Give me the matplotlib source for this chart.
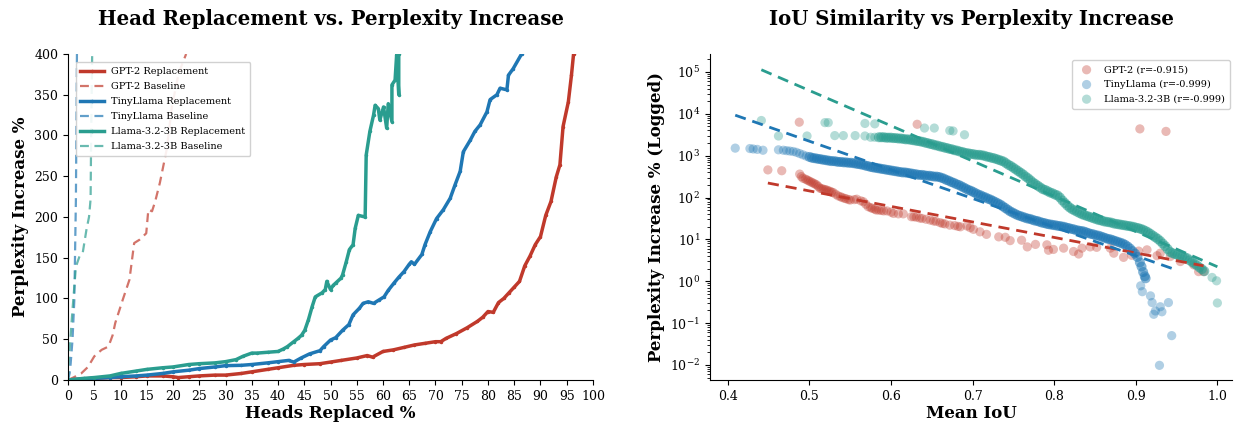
import numpy as np
import matplotlib
matplotlib.use("Agg")
import matplotlib.pyplot as plt

plt.rcParams['font.family'] = ['DejaVu Serif']
plt.rcParams['mathtext.fontset'] = 'dejavuserif'

# ---------------- data: left panel ----------------
models = ["GPT-2", "TinyLlama", "Llama-3.2-3B"]
colors = ["#c0392b", "#1f77b4", "#2a9d8f"]

gpt2_rep_x = [0, 2, 5, 8, 10, 13, 15, 18, 20, 21, 23, 25, 28, 30, 33, 35, 38, 40, 43, 45, 48, 50, 52, 55, 57, 58,
              60, 62, 64, 66, 68, 70, 71, 72, 74, 76, 78, 79, 80, 81, 82, 83, 84, 85, 86, 87, 88, 89, 90, 91, 92,
              93, 93.7, 94.3, 95.3, 95.9, 96.3]
gpt2_rep_y = [0, 1, 2, 3, 3, 4, 5, 5, 4, 3, 4, 5, 6, 6, 8, 10, 13, 15, 18, 19, 20, 22, 24, 27, 30, 28,
              35, 37, 40, 43, 45, 47, 47, 51, 57, 64, 72, 77, 84, 83, 95, 100, 107, 114, 121, 140, 152, 166, 176, 202, 219,
              249, 264, 311, 341, 374, 400]

tiny_rep_x = [0, 3, 5, 8, 10, 13, 15, 18, 20, 23, 25, 28, 30, 33, 35, 38, 40, 42, 43, 44.4, 46, 48, 48.7, 50, 51,
              52.3, 53.5, 54.3, 55.5, 56.2, 57.2, 58.2, 59.2, 60.2, 61, 62.1, 63, 64, 65, 65.4, 66, 67.4, 68, 69,
              70.2, 71.5, 72.8, 73.7, 74.7, 75.3, 76.6, 77.5, 78.5, 79.8, 80.4, 81.7, 82.3, 83.6, 83.9, 84.8, 86.4]
tiny_rep_y = [0, 1, 2, 3, 4, 5, 6, 8, 10, 12, 14, 16, 17.6, 18, 19, 21, 22.5, 24, 22, 27, 32, 36, 41, 49, 52,
              61, 68, 80, 88, 94, 96, 94, 98, 102, 110, 119, 126, 133, 142, 145, 142, 154, 166, 182,
              198, 209, 223, 239, 256, 280, 294, 305, 313, 329, 344, 350, 358, 356, 374, 382, 400]

llama_rep_x = [0, 3, 5, 8, 10, 13, 15, 18, 20, 23, 25, 28, 30, 32, 33.3, 35, 36, 38, 40, 41, 41.8, 43, 43.8, 44.5,
               45.1, 45.8, 46.5, 47.1, 48.4, 49, 49.3, 50, 50.5, 51, 52, 52.3, 53, 53.6, 54.3, 54.7, 55.3, 56.6,
               56.8, 57.5, 58.2, 58.5, 59.1, 59.4, 60.1, 60.7, 61.0, 61.7, 61.7, 62.3, 62.6, 63, 63]
llama_rep_y = [0, 2, 3, 5, 8, 11, 13, 15, 16, 19, 20, 21, 22.5, 25, 29, 33, 33, 34, 35, 38, 41, 47, 51, 55,
               61, 74, 90, 102, 107, 111, 121, 111, 116, 119, 125, 129, 145, 160, 166, 186, 202, 200,
               276, 305, 325, 337, 333, 319, 335, 309, 339, 317, 362, 368, 399, 350, 400]

gpt2_base_x = [0, 1, 2.5, 3.8, 5, 6.4, 7.7, 8.5, 9, 10.4, 11.7, 12.6, 13.6, 14.9, 15.3, 16.0, 16.6, 17.5, 18.8,
               19.8, 21.1, 22.5]
gpt2_base_y = [0, 3, 8, 16, 29, 37, 41, 55, 70, 98, 123, 168, 172, 180, 209, 207, 219, 242, 283, 336, 377, 400]

tiny_base_x = [0, 0.3, 0.5, 0.85, 1.2, 1.3, 1.5, 1.7]
tiny_base_y = [0, 8, 20, 49, 98, 139, 221, 400]

llama_base_x = [0, 0.1, 0.3, 0.85, 1.5, 2.2, 2.8, 3.5, 4.0, 4.3, 4.4, 4.6]
llama_base_y = [0, 20, 37, 86, 139, 152, 156, 184, 200, 222, 295, 400]

# ---------------- data: right panel (Mean IoU, log10 perplexity increase %) ----------------
# isolated / sparse points
gpt2_iou = [0.449, 0.466, 0.4875, 0.632, 0.905, 0.937,
            0.488, 0.490, 0.492, 0.495, 0.497, 0.499, 0.501, 0.503, 0.505, 0.507, 0.509, 0.511, 0.513, 0.515,
            0.517, 0.519, 0.521, 0.523, 0.525, 0.527, 0.529, 0.532, 0.535, 0.538, 0.540, 0.543, 0.545, 0.548,
            0.550, 0.555, 0.558, 0.563, 0.566, 0.569, 0.572, 0.575, 0.577, 0.580, 0.582, 0.585, 0.588, 0.591,
            0.595, 0.600, 0.603, 0.609, 0.615, 0.625, 0.628, 0.631, 0.635, 0.638, 0.643, 0.648, 0.652, 0.655,
            0.660, 0.663, 0.666, 0.672, 0.678, 0.682, 0.685, 0.693, 0.697, 0.701, 0.709, 0.717,
            0.732, 0.740, 0.746, 0.760, 0.767, 0.777, 0.791, 0.793, 0.799, 0.8115, 0.8237, 0.830, 0.834, 0.844,
            0.852, 0.8687, 0.873, 0.885, 0.895, 0.9035, 0.9137, 0.926, 0.930, 0.9423, 0.9546, 0.971, 0.977, 0.983]
gpt2_logppl = [2.66, 2.64, 3.80, 3.75, 3.64, 3.58,
               2.56, 2.50, 2.46, 2.44, 2.42, 2.40, 2.38, 2.36, 2.34, 2.32, 2.30, 2.26, 2.22, 2.21,
               2.20, 2.19, 2.18, 2.16, 2.15, 2.13, 2.12, 2.08, 2.04, 2.02, 2.00, 1.98, 1.97, 1.95,
               1.94, 1.95, 1.96, 1.92, 1.90, 1.84, 1.78, 1.76, 1.74, 1.72, 1.70, 1.70, 1.69, 1.68,
               1.68, 1.65, 1.62, 1.61, 1.61, 1.54, 1.54, 1.53, 1.51, 1.50, 1.48, 1.46, 1.44, 1.43,
               1.40, 1.38, 1.37, 1.34, 1.33, 1.31, 1.30, 1.32, 1.28, 1.24, 1.18, 1.12,
               1.06, 1.05, 0.97, 0.98, 0.82, 0.88, 0.87, 0.74, 0.76, 0.79, 0.71, 0.65, 0.79, 0.82,
               0.81, 0.79, 0.67, 0.57, 0.62, 0.72, 0.75, 0.61, 0.67, 0.59, 0.47, 0.39, 0.23, 0.23]

tiny_iou_sparse = [0.409, 0.427, 0.431, 0.436, 0.443, 0.462, 0.468, 0.472, 0.476, 0.480, 0.484, 0.488, 0.492,
                   0.496, 0.906, 0.908, 0.918, 0.920, 0.922, 0.924, 0.930, 0.932, 0.940, 0.944, 0.929]
tiny_logppl_sparse = [3.18, 3.17, 3.16, 3.15, 3.13, 3.14, 3.13, 3.12, 3.11, 3.10, 3.08, 3.05, 3.02,
                      2.99, -0.11, -0.25, -0.35, -0.51, -0.79, -0.71, -0.61, -0.73, -0.51, -1.30, -2.01]

# dense band (hundreds of overlapping points in the source)
tiny_iou_band = [
    0.500, 0.503, 0.506, 0.509, 0.512, 0.515, 0.518, 0.521, 0.524, 0.527, 0.530, 0.533, 0.536, 0.539,
    0.542, 0.545, 0.548, 0.551, 0.554, 0.557, 0.560, 0.563, 0.566, 0.569, 0.572, 0.575, 0.578, 0.581,
    0.584, 0.587, 0.590, 0.593, 0.596, 0.599, 0.602, 0.605, 0.608, 0.611, 0.614, 0.617, 0.620, 0.623,
    0.626, 0.629, 0.632, 0.635, 0.638, 0.641, 0.644, 0.647, 0.650, 0.653, 0.656, 0.659, 0.662, 0.665,
    0.668, 0.671, 0.674, 0.677, 0.680, 0.683, 0.686, 0.689, 0.692, 0.695, 0.698, 0.701, 0.704, 0.707,
    0.710, 0.713, 0.716, 0.719, 0.722, 0.725, 0.728, 0.731, 0.734, 0.737, 0.740, 0.743, 0.746, 0.749,
    0.752, 0.755, 0.758, 0.761, 0.764, 0.767, 0.770, 0.773, 0.776, 0.779, 0.782, 0.785, 0.788, 0.791,
    0.794, 0.797, 0.800, 0.803, 0.806, 0.809, 0.812, 0.815, 0.818, 0.821, 0.824, 0.827, 0.830, 0.833,
    0.836, 0.839, 0.842, 0.845, 0.848, 0.851, 0.854, 0.857, 0.860, 0.863, 0.866, 0.869, 0.872, 0.875,
    0.878, 0.881, 0.884, 0.887, 0.890, 0.893, 0.896, 0.899, 0.902, 0.905, 0.907, 0.909, 0.911, 0.912]
tiny_logppl_band = [
    2.97, 2.95, 2.94, 2.93, 2.92, 2.91, 2.90, 2.89, 2.88, 2.87, 2.87, 2.86, 2.85, 2.85,
    2.84, 2.84, 2.83, 2.83, 2.82, 2.81, 2.80, 2.79, 2.78, 2.76, 2.75, 2.73, 2.72, 2.71,
    2.70, 2.69, 2.68, 2.67, 2.66, 2.65, 2.64, 2.63, 2.62, 2.61, 2.60, 2.60, 2.59, 2.58,
    2.57, 2.56, 2.55, 2.54, 2.54, 2.53, 2.52, 2.52, 2.51, 2.50, 2.50, 2.49, 2.47, 2.45,
    2.42, 2.40, 2.37, 2.35, 2.32, 2.30, 2.27, 2.24, 2.21, 2.18, 2.16, 2.13, 2.10, 2.07,
    2.05, 2.02, 2.00, 1.97, 1.95, 1.92, 1.89, 1.86, 1.83, 1.79, 1.75, 1.71, 1.67, 1.64,
    1.61, 1.58, 1.56, 1.54, 1.52, 1.50, 1.49, 1.47, 1.45, 1.44, 1.42, 1.40, 1.39, 1.37,
    1.36, 1.35, 1.34, 1.33, 1.32, 1.31, 1.30, 1.28, 1.27, 1.25, 1.24, 1.22, 1.21, 1.20,
    1.19, 1.17, 1.15, 1.13, 1.12, 1.10, 1.09, 1.07, 1.05, 1.03, 1.01, 1.00, 0.98, 0.96,
    0.94, 0.92, 0.90, 0.87, 0.83, 0.78, 0.72, 0.66, 0.58, 0.45, 0.35, 0.22, 0.12, 0.07]

llama_iou_sparse = [0.441, 0.462, 0.497, 0.519, 0.523, 0.531, 0.5415, 0.556, 0.568, 0.568, 0.575, 0.580,
                    0.580, 0.641, 0.653, 0.672, 0.676, 0.690, 0.9935, 0.999, 1.0]
llama_logppl_sparse = [3.84, 3.47, 3.47, 3.79, 3.79, 3.48, 3.48, 3.48, 3.47, 3.77, 3.44, 3.76,
                       3.44, 3.66, 3.66, 3.60, 3.59, 3.50, 0.09, 0.01, -0.52]

llama_iou_band = [
    0.585, 0.588, 0.591, 0.594, 0.597, 0.600, 0.603, 0.606, 0.609, 0.612, 0.615, 0.618, 0.621, 0.624,
    0.627, 0.630, 0.633, 0.636, 0.639, 0.642, 0.645, 0.648, 0.651, 0.654, 0.657, 0.660, 0.663, 0.666,
    0.669, 0.672, 0.675, 0.678, 0.681, 0.684, 0.687, 0.690, 0.693, 0.696, 0.699, 0.702, 0.705, 0.708,
    0.711, 0.714, 0.717, 0.720, 0.723, 0.726, 0.729, 0.732, 0.735, 0.738, 0.741, 0.744, 0.747, 0.750,
    0.753, 0.756, 0.759, 0.762, 0.765, 0.768, 0.771, 0.774, 0.777, 0.780, 0.783, 0.786, 0.789, 0.792,
    0.795, 0.798, 0.801, 0.804, 0.807, 0.810, 0.813, 0.816, 0.819, 0.822, 0.825, 0.828, 0.831, 0.834,
    0.837, 0.840, 0.843, 0.846, 0.849, 0.852, 0.855, 0.858, 0.861, 0.864, 0.867, 0.870, 0.873, 0.876,
    0.879, 0.882, 0.885, 0.888, 0.891, 0.894, 0.897, 0.900, 0.903, 0.906, 0.909, 0.912, 0.915, 0.918,
    0.921, 0.924, 0.927, 0.930, 0.933, 0.936, 0.939, 0.942, 0.945, 0.948, 0.951, 0.954, 0.957, 0.960,
    0.963, 0.966, 0.969, 0.972, 0.975, 0.978, 0.981, 0.984]
llama_logppl_band = [
    3.44, 3.44, 3.44, 3.43, 3.43, 3.43, 3.42, 3.42, 3.41, 3.41, 3.40, 3.39, 3.39, 3.38,
    3.37, 3.36, 3.35, 3.34, 3.33, 3.31, 3.30, 3.28, 3.27, 3.25, 3.24, 3.22, 3.21, 3.19,
    3.18, 3.16, 3.15, 3.13, 3.12, 3.10, 3.09, 3.07, 3.06, 3.05, 3.04, 3.03, 3.02, 3.02,
    3.01, 3.00, 2.98, 2.97, 2.95, 2.94, 2.92, 2.90, 2.88, 2.86, 2.82, 2.78, 2.75, 2.71,
    2.67, 2.63, 2.59, 2.55, 2.50, 2.46, 2.41, 2.36, 2.32, 2.28, 2.24, 2.20, 2.18, 2.15,
    2.12, 2.10, 2.07, 2.05, 2.00, 1.93, 1.87, 1.81, 1.76, 1.72, 1.69, 1.66, 1.63, 1.60,
    1.58, 1.56, 1.54, 1.52, 1.50, 1.48, 1.46, 1.45, 1.43, 1.42, 1.41, 1.40, 1.38, 1.37,
    1.36, 1.35, 1.34, 1.33, 1.32, 1.31, 1.30, 1.28, 1.27, 1.25, 1.23, 1.20, 1.17, 1.13,
    1.09, 1.05, 1.01, 0.96, 0.90, 0.84, 0.77, 0.70, 0.67, 0.65, 0.63, 0.61, 0.59, 0.57,
    0.55, 0.50, 0.46, 0.42, 0.38, 0.33, 0.29, 0.24]

pearson_r = [-0.915, -0.999, -0.999]
# log-linear fit lines: log10(ppl) = intercept + slope * IoU
fit_slope = [-3.705, -6.84, -8.42]
fit_intercept = [4.01, 6.765, 8.766]

# ---------------- figure ----------------
fig = plt.figure(figsize=(12.39, 4.25), dpi=100)
ax1 = fig.add_axes([0.0549, 0.1059, 0.4237, 0.7671])
ax2 = fig.add_axes([0.5730, 0.1059, 0.4214, 0.7671])

rep_x = [gpt2_rep_x, tiny_rep_x, llama_rep_x]
rep_y = [gpt2_rep_y, tiny_rep_y, llama_rep_y]
base_x = [gpt2_base_x, tiny_base_x, llama_base_x]
base_y = [gpt2_base_y, tiny_base_y, llama_base_y]

for i, m in enumerate(models):
    ax1.plot(rep_x[i], rep_y[i], color=colors[i], lw=2.5, marker='o', markersize=1.5,
             label=f"{m} Replacement")
    ax1.plot(base_x[i], base_y[i], color=colors[i], lw=1.6, ls=(0, (4, 2.5)), alpha=0.7,
             label=f"{m} Baseline")

ax1.set_xlim(0, 100)
ax1.set_ylim(0, 400)
ax1.set_xticks(np.arange(0, 101, 5))
ax1.set_yticks(np.arange(0, 401, 50))
ax1.tick_params(labelsize=9)
ax1.set_xlabel("Heads Replaced %", fontsize=12, fontweight='bold', labelpad=2)
ax1.set_ylabel("Perplexity Increase %", fontsize=12, fontweight='bold')
ax1.set_title("Head Replacement vs. Perplexity Increase", fontsize=14.2, fontweight='bold', pad=21)
ax1.legend(loc='upper left', fontsize=7, bbox_to_anchor=(0.005, 0.99), framealpha=0.9,
           handlelength=2.4, borderpad=0.5, labelspacing=0.62)
for s in ['top', 'right']:
    ax1.spines[s].set_visible(False)

sparse_x = [gpt2_iou, tiny_iou_sparse, llama_iou_sparse]
sparse_y = [gpt2_logppl, tiny_logppl_sparse, llama_logppl_sparse]
band_x = [[], tiny_iou_band, llama_iou_band]
band_y = [[], tiny_logppl_band, llama_logppl_band]

for i, m in enumerate(models):
    xs = np.array(sparse_x[i])
    ax2.scatter(xs, 10.0 ** np.array(sparse_y[i]), s=44, color=colors[i], alpha=0.35,
                edgecolors='none', label=f"{m} (r={pearson_r[i]:.3f})")
    if len(band_x[i]):
        ax2.scatter(band_x[i], 10.0 ** np.array(band_y[i]), s=52, color=colors[i], alpha=0.55,
                    edgecolors='none')
    allx = np.concatenate([xs, np.array(band_x[i], dtype=float)])
    xf = np.array([allx.min(), allx.max()])
    ax2.plot(xf, 10.0 ** (fit_intercept[i] + fit_slope[i] * xf), color=colors[i], lw=2,
             ls=(0, (4, 2.5)))

ax2.set_yscale('log')
ax2.set_xlim(0.378, 1.018)
ax2.set_ylim(10 ** -2.36, 10 ** 5.43)
ax2.set_xticks([0.4, 0.5, 0.6, 0.7, 0.8, 0.9, 1.0])
ax2.tick_params(labelsize=9)
ax2.set_xlabel("Mean IoU", fontsize=12, fontweight='bold', labelpad=2)
ax2.set_ylabel("Perplexity Increase % (Logged)", fontsize=12, fontweight='bold')
ax2.set_title("IoU Similarity vs Perplexity Increase", fontsize=14.2, fontweight='bold', pad=21)
ax2.legend(loc='upper right', fontsize=7, bbox_to_anchor=(1.005, 0.995), framealpha=0.9,
           borderpad=0.5, labelspacing=0.58, handletextpad=0.8)
for s in ['top', 'right']:
    ax2.spines[s].set_visible(False)

fig.savefig("out.png", dpi=100)
